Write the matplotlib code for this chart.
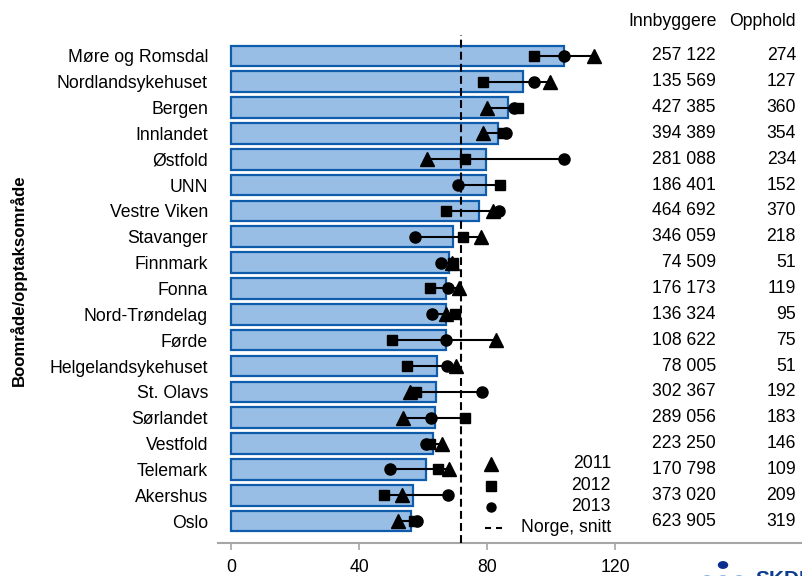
import matplotlib
matplotlib.use("Agg")
import matplotlib.pyplot as plt
import matplotlib.transforms as mtransforms
from matplotlib.lines import Line2D
from matplotlib.patches import Circle

plt.rcParams['font.family'] = ['Liberation Sans', 'DejaVu Sans']

areas = ["Møre og Romsdal", "Nordlandsykehuset", "Bergen", "Innlandet", "Østfold",
         "UNN", "Vestre Viken", "Stavanger", "Finnmark", "Fonna", "Nord-Trøndelag",
         "Førde", "Helgelandsykehuset", "St. Olavs", "Sørlandet", "Vestfold",
         "Telemark", "Akershus", "Oslo"]
rate_mean = [104.0, 91.1, 86.4, 83.5, 79.7, 79.6, 77.6, 69.2, 68.0, 67.2, 67.0,
             67.0, 64.4, 64.0, 63.7, 63.0, 60.8, 56.7, 56.2]
rate_2011 = [113.4, 99.7, 80.1, 78.8, 61.1, None, 81.7, 78.1, 69.0, 71.3, 67.2,
             82.8, 70.3, 55.9, 53.6, 66.0, 68.2, 53.3, 52.3]
rate_2012 = [94.5, 78.8, 89.5, 85.0, 73.1, 84.1, 67.0, 72.6, 69.3, 62.2, 70.1,
             50.2, 54.9, 57.8, 73.1, 62.0, 64.5, 47.8, 57.3]
rate_2013 = [103.9, 94.8, 88.5, 86.0, 103.9, 70.8, 83.8, 57.5, 65.6, 67.7, 62.8,
             67.0, 67.4, 78.3, 62.4, 61.0, 49.5, 67.9, 58.2]
innbyggere = ["257 122", "135 569", "427 385", "394 389", "281 088", "186 401",
              "464 692", "346 059", "74 509", "176 173", "136 324", "108 622",
              "78 005", "302 367", "289 056", "223 250", "170 798", "373 020", "623 905"]
opphold = ["274", "127", "360", "354", "234", "152", "370", "218", "51", "119", "95",
           "75", "51", "192", "183", "146", "109", "209", "319"]
norge_snitt = 71.7
xticks = [0, 40, 80, 120]

W, H = 803, 576
fig = plt.figure(figsize=(W / 100, H / 100), dpi=100)

def fx(px):
    return px / W

def fy(py):
    return 1 - py / H

ax_left, ax_right, ax_top, ax_bot = 218, 801.7, 35, 543
ax = fig.add_axes([fx(ax_left), fy(ax_bot), (ax_right - ax_left) / W, (ax_bot - ax_top) / H])

FS = 12.7
pos = list(range(len(areas)))

ax.barh(pos, rate_mean, height=0.8, color='#98BEE6', edgecolor='#0E5CAB',
        linewidth=1.6, zorder=2)

for i in pos:
    vals = [v for v in (rate_2011[i], rate_2012[i], rate_2013[i]) if v is not None]
    ax.plot([min(vals), max(vals)], [i, i], color='black', lw=1.5, zorder=3)
    if rate_2011[i] is not None:
        ax.plot(rate_2011[i], i, marker='^', color='black', ms=9.5, ls='none', zorder=4)
    ax.plot(rate_2012[i], i, marker='s', color='black', ms=7.5, ls='none', zorder=4)
    ax.plot(rate_2013[i], i, marker='o', color='black', ms=8, ls='none', zorder=4)

ax.axvline(norge_snitt, color='black', lw=1.5, ls=(0, (3.8, 2.0)), zorder=5)

ax.set_xlim(-4.1, 178.3)
ax.set_ylim(18.85, -0.81)
ax.set_yticks(pos)
ax.set_yticklabels(areas, fontsize=FS)
ax.tick_params(axis='y', length=0, pad=7.2)
ax.set_xticks(xticks)
ax.set_xticklabels([str(t) for t in xticks], fontsize=FS)
ax.tick_params(axis='x', length=5, width=1.2, color='#A6A6A6', pad=6.5)
for s in ('left', 'top', 'right'):
    ax.spines[s].set_visible(False)
ax.spines['bottom'].set_color('#A6A6A6')
ax.spines['bottom'].set_linewidth(1.5)

# table columns
tr = mtransforms.blended_transform_factory(fig.transFigure, ax.transData)
for i in pos:
    ax.text(fx(716), i, innbyggere[i], transform=tr, ha='right', va='center', fontsize=FS)
    ax.text(fx(796), i, opphold[i], transform=tr, ha='right', va='center', fontsize=FS)
fig.text(fx(717), fy(21), "Innbyggere", ha='right', va='center', fontsize=FS)
fig.text(fx(796), fy(21), "Opphold", ha='right', va='center', fontsize=FS)

# y label
fig.text(fx(18), fy(280), "Boområde/opptaksområde", rotation=90, ha='center',
         va='center', fontsize=FS * 0.95, fontweight='bold')

# legend (manual)
leg_rows = [("2011", '^', 9.5, 464), ("2012", 's', 6.5, 485.5), ("2013", 'o', 6.5, 506.5)]
for label, mk, ms, py in leg_rows:
    fig.add_artist(Line2D([fx(491)], [fy(py)], marker=mk, ms=ms, color='black', ls='none'))
    fig.text(fx(611), fy(py), label, ha='right', va='center', fontsize=FS)
fig.add_artist(Line2D([fx(485), fx(502)], [fy(527.5), fy(527.5)], color='black', lw=1.5,
                      ls=(0, (2.9, 2.4))))
fig.text(fx(611), fy(527.5), "Norge, snitt", ha='right', va='center', fontsize=FS)

# logo (partially visible at the bottom edge)
fig.add_artist(Circle((fx(723), fy(565)), 4.5 / W, color='#0B2D8F',
                      transform=fig.transFigure))
for px in (707, 723, 739):
    fig.add_artist(Circle((fx(px), fy(579)), 4.5 / W, color='#7FB2E0',
                          transform=fig.transFigure))
fig.text(fx(755), fy(570), "SKDE", ha='left', va='top', fontsize=15,
         fontweight='bold', color='#0B3C8F')

fig.savefig("out.png", dpi=100)
